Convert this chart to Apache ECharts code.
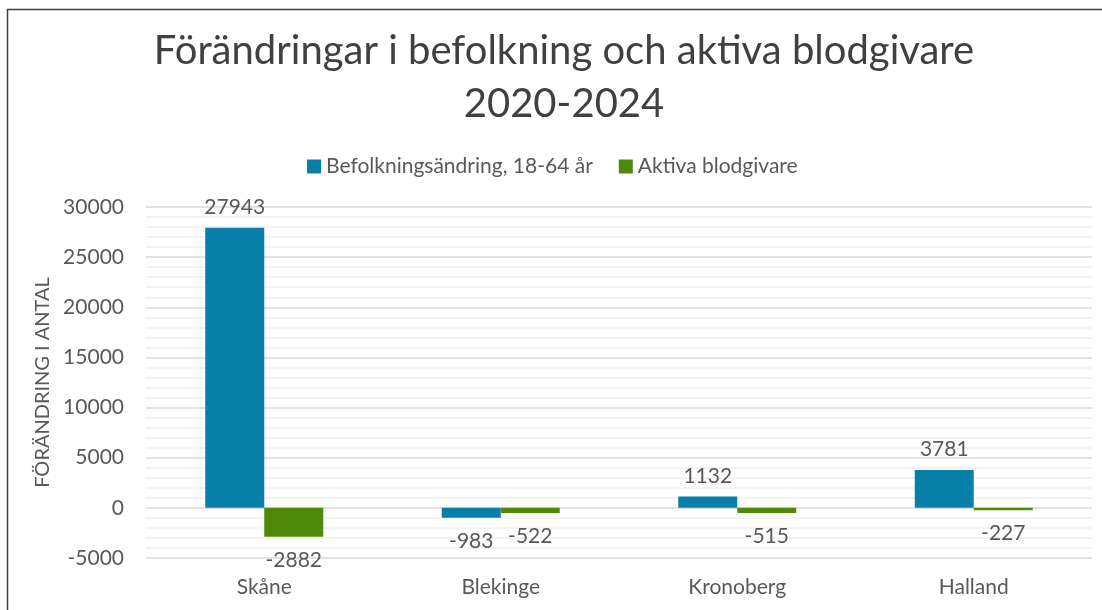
<!DOCTYPE html>
<html>
<head>
<meta charset="utf-8">
<script src="https://cdn.jsdelivr.net/npm/echarts@6/dist/echarts.min.js"></script>
<style>
  html, body { margin: 0; padding: 0; background: #fff; }
  #chart { width: 1102px; height: 610px; }
</style>
</head>
<body>
<div id="chart"></div>
<script>
const regions = ['Skåne', 'Blekinge', 'Kronoberg', 'Halland']
const befolkning = [27943, -983, 1132, 3781]
const blodgivare = [-2882, -522, -515, -227]
const seriesNames = ['Befolkningsändring, 18-64 år', 'Aktiva blodgivare']

const FONT = 'Lato, "Open Sans", sans-serif'
const TEXT = '#595959'

// negativa staplar får etiketten under stapeln
function withLabels(values) {
  return values.map(v => ({
    value: v,
    label: { position: v < 0 ? 'bottom' : 'top', distance: v < 0 ? 13 : 10 }
  }))
}

const chart = echarts.init(document.getElementById('chart'))

chart.setOption({
  backgroundColor: '#fff',
  animation: false,
  textStyle: { fontFamily: FONT },
  graphic: [{
    type: 'rect',
    shape: { x: 7.5, y: 9.5, width: 1200, height: 700 },
    style: { fill: 'none', stroke: '#404040', lineWidth: 1.5 },
    silent: true
  }],
  title: {
    text: 'Förändringar i befolkning och aktiva blodgivare\n2020-2024',
    left: 559,
    textAlign: 'center',
    top: 20,
    textStyle: { fontFamily: FONT, fontSize: 40, fontWeight: 'normal', color: '#404040', lineHeight: 53 }
  },
  legend: {
    top: 151,
    left: 302,
    itemGap: 26,
    itemWidth: 14,
    itemHeight: 14,
    icon: 'rect',
    textStyle: { fontFamily: FONT, fontSize: 21, color: TEXT },
    data: seriesNames
  },
  grid: { top: 207, bottom: 52, left: 146, right: 10 },
  xAxis: {
    type: 'category',
    data: regions,
    axisLine: { show: false },
    axisTick: { show: false },
    axisLabel: { color: TEXT, fontSize: 21, fontFamily: FONT, margin: 19 }
  },
  yAxis: {
    type: 'value',
    min: -5000,
    max: 30000,
    interval: 5000,
    name: 'FÖRÄNDRING I ANTAL',
    nameLocation: 'middle',
    nameGap: 90,
    nameTextStyle: { color: TEXT, fontSize: 20, fontFamily: FONT },
    axisLine: { show: false },
    axisTick: { show: false },
    axisLabel: { color: TEXT, fontSize: 21, fontFamily: FONT, margin: 22, formatter: v => String(v) },
    splitLine: { lineStyle: { color: '#d9d9d9', width: 1.5 } },
    minorTick: { show: false, splitNumber: 5 },
    minorSplitLine: { show: true, lineStyle: { color: '#f0f0f0', width: 1.5 } }
  },
  series: [
    {
      name: seriesNames[0],
      type: 'bar',
      data: withLabels(befolkning),
      barWidth: 59,
      barGap: '0%',
      itemStyle: { color: '#077fa8' },
      label: { show: true, color: TEXT, fontSize: 21, fontFamily: FONT }
    },
    {
      name: seriesNames[1],
      type: 'bar',
      data: withLabels(blodgivare),
      barWidth: 59,
      barGap: '0%',
      itemStyle: { color: '#4e8a08' },
      label: { show: true, color: TEXT, fontSize: 21, fontFamily: FONT }
    }
  ]
})
</script>
</body>
</html>
